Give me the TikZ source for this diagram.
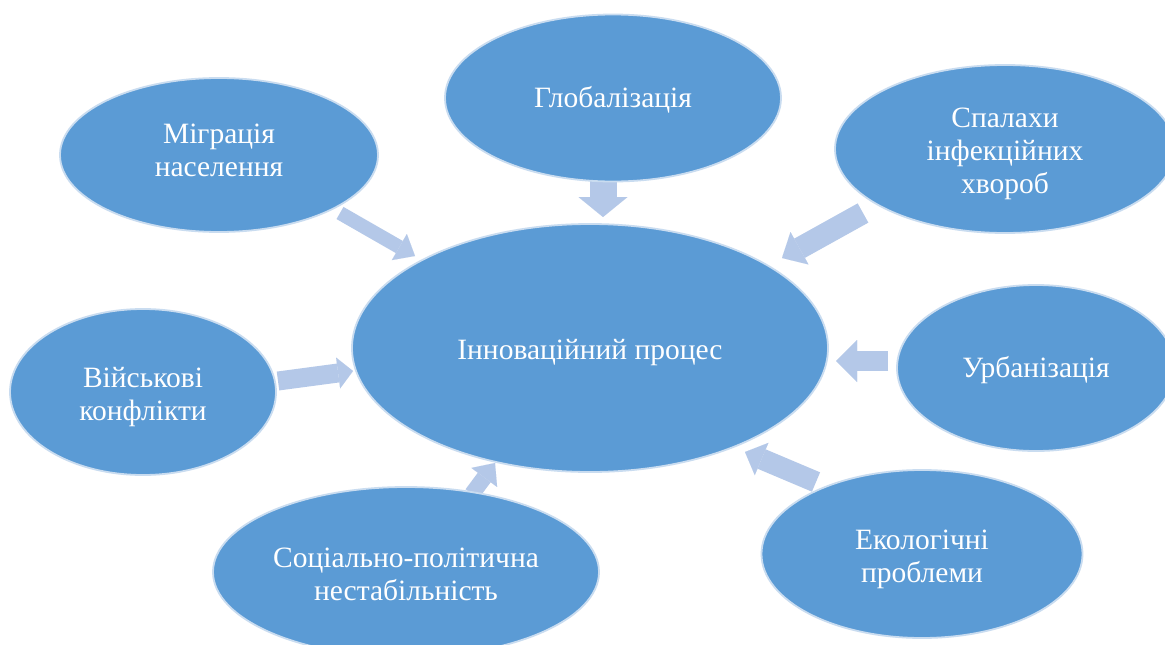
\documentclass[tikz,border=0pt]{standalone}
\usepackage{fontspec}
\setmainfont{Liberation Serif}
\usetikzlibrary{shapes.geometric,arrows.meta}
\definecolor{ellfill}{HTML}{5B9BD5}
\definecolor{ellline}{HTML}{C9DCF0}
\definecolor{arrfill}{HTML}{B4C8E8}
\newcommand\lowertext[2]{\raisebox{-#1}[\height][\depth]{#2}}
\begin{document}
\begin{tikzpicture}[x=1pt,y=-1pt,
  ell/.style={ellipse, fill=ellfill, draw=ellline, line width=1.8pt, inner sep=0pt,
    text=white, align=center, font=\fontsize{29.5}{33}\selectfont},
  blk/.style n args={3}{draw=arrfill, line width=#1,
    -{Triangle[width=#2,length=#3,line width=0.01pt,fill=arrfill]}}]
\useasboundingbox (0,0) rectangle (1165,645);
\clip (0,0) rectangle (1165,645);
\fill[white] (0,0) rectangle (1165,645);
% arrow coordinates
\coordinate (t1) at (340,213); \coordinate (h1) at (415,256);
\coordinate (t2) at (603,180); \coordinate (h2) at (603,217);
\coordinate (t3) at (863,213); \coordinate (h3) at (782,258);
\coordinate (t4) at (888,361); \coordinate (h4) at (836,361);
\coordinate (t5) at (816,482); \coordinate (h5) at (745,452);
\coordinate (t6) at (472,494); \coordinate (h6) at (495,463);
\coordinate (t7) at (278,381); \coordinate (h7) at (353,371);
\draw[blk={14pt}{30pt}{18pt}] (t1) -- (h1);
\draw[blk={27pt}{49pt}{20pt}] (t2) -- (h2);
\draw[blk={22pt}{37pt}{20pt}] (t3) -- (h3);
\draw[blk={20pt}{42pt}{21pt}] (t4) -- (h4);
\draw[blk={21pt}{35pt}{18pt}] (t5) -- (h5);
\draw[blk={16pt}{32pt}{18pt}] (t6) -- (h6);
\draw[blk={19pt}{31pt}{15pt}] (t7) -- (h7);
% ellipses
\node[ell, minimum width=476pt, minimum height=248pt] (c) at (590,348) {\lowertext{5pt}{Інноваційний процес}};
\node[ell, minimum width=336pt, minimum height=167pt] (glob) at (613,98) {\lowertext{2pt}{Глобалізація}};
\node[ell, minimum width=318pt, minimum height=154pt] (mig) at (219,155) {\lowertext{-5pt}{Міграція}\\\lowertext{-5pt}{населення}};
\node[ell, minimum width=340pt, minimum height=168pt] (spal) at (1005,149) {\lowertext{5pt}{Спалахи}\\\lowertext{5pt}{інфекційних}\\\lowertext{5pt}{хвороб}};
\node[ell, minimum width=278pt, minimum height=166pt] (urb) at (1036,368) {\lowertext{2pt}{Урбанізація}};
\node[ell, minimum width=321pt, minimum height=168pt] (eco) at (922,554) {\lowertext{5pt}{Екологічні}\\\lowertext{5pt}{проблеми}};
\node[ell, minimum width=386pt, minimum height=170pt] (soc) at (406,572) {\lowertext{2pt}{Соціально-політична}\\\lowertext{2pt}{нестабільність}};
\node[ell, minimum width=266pt, minimum height=166pt] (mil) at (143,392) {\lowertext{5pt}{Військові}\\\lowertext{5pt}{конфлікти}};
\end{tikzpicture}
\end{document}
